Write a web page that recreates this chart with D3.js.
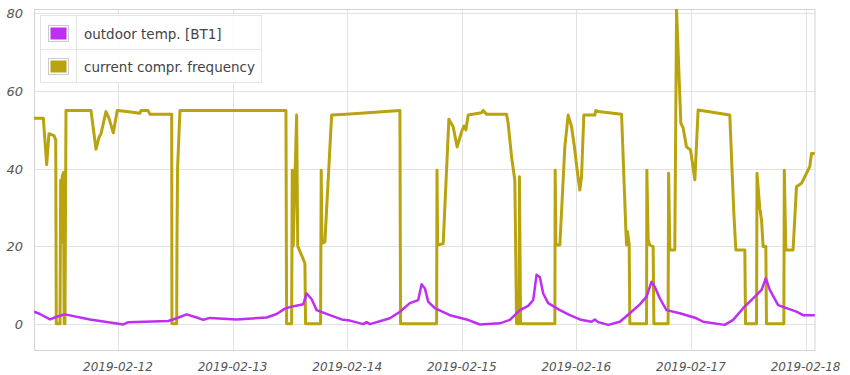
<!DOCTYPE html>
<html>
<head>
<meta charset="utf-8">
<script src="https://cdn.jsdelivr.net/npm/d3@7.9.0/dist/d3.min.js"></script>
<style>
  body { margin: 0; background: #fff; }
  svg { display: block; }
  .tick-label { font-family: 'DejaVu Sans', sans-serif; font-style: italic; fill: #555; }
  .legend-text { font-family: 'DejaVu Sans', sans-serif; font-size: 13.5px; fill: #444; }
</style>
</head>
<body>
<svg id="chart" width="850" height="375"></svg>
<script>
const seriesNames = ['outdoor temp. [BT1]', 'current compr. frequency'];
const seriesColors = ['#bf2ef2', '#b9a40f'];

const xStart = '2019-02-11 06:25';
const xEnd = '2019-02-18 02:05';
const dayTicks = ['2019-02-12', '2019-02-13', '2019-02-14', '2019-02-15', '2019-02-16', '2019-02-17', '2019-02-18'];
const yTicks = [0, 20, 40, 60, 80];

// outdoor temp
const tempData = [
  ['2019-02-11 06:25', 3.1], ['2019-02-11 07:40', 2.5], ['2019-02-11 09:46', 1.1], ['2019-02-11 11:10', 1.8],
  ['2019-02-11 12:54', 2.4], ['2019-02-11 18:08', 1.1], ['2019-02-12 01:07', -0.2], ['2019-02-12 02:10', 0.4],
  ['2019-02-12 10:32', 0.7], ['2019-02-12 12:18', 1.4], ['2019-02-12 14:23', 2.4], ['2019-02-12 16:29', 1.6],
  ['2019-02-12 17:52', 1.0], ['2019-02-12 19:16', 1.5], ['2019-02-13 00:51', 1.1], ['2019-02-13 07:08', 1.6],
  ['2019-02-13 09:14', 2.5], ['2019-02-13 10:58', 3.9], ['2019-02-13 12:22', 4.4], ['2019-02-13 14:07', 4.8],
  ['2019-02-13 14:48', 5.0], ['2019-02-13 15:31', 7.8], ['2019-02-13 16:34', 6.3], ['2019-02-13 17:36', 3.5],
  ['2019-02-13 20:23', 2.2], ['2019-02-13 22:50', 1.1], ['2019-02-14 00:35', 0.8], ['2019-02-14 03:22', -0.1],
  ['2019-02-14 04:04', 0.4], ['2019-02-14 04:46', -0.1], ['2019-02-14 08:57', 1.4], ['2019-02-14 11:03', 3.1],
  ['2019-02-14 13:08', 5.3], ['2019-02-14 14:53', 6.1], ['2019-02-14 15:35', 10.2], ['2019-02-14 16:17', 9.1],
  ['2019-02-14 16:58', 5.7], ['2019-02-14 18:22', 4.0], ['2019-02-14 21:31', 2.2], ['2019-02-15 01:01', 1.1],
  ['2019-02-15 03:48', -0.2], ['2019-02-15 07:59', 0.1], ['2019-02-15 10:05', 1.0], ['2019-02-15 12:10', 3.5],
  ['2019-02-15 13:55', 4.6], ['2019-02-15 14:58', 6.1], ['2019-02-15 15:40', 12.6], ['2019-02-15 16:22', 12.0],
  ['2019-02-15 17:03', 7.8], ['2019-02-15 18:06', 5.3], ['2019-02-15 20:33', 3.5], ['2019-02-15 22:38', 2.2],
  ['2019-02-16 00:44', 1.1], ['2019-02-16 03:11', 0.5], ['2019-02-16 03:52', 1.1], ['2019-02-16 04:34', 0.4],
  ['2019-02-16 06:40', -0.3], ['2019-02-16 09:07', 0.5], ['2019-02-16 11:12', 2.7], ['2019-02-16 13:18', 5.0],
  ['2019-02-16 14:42', 7.0], ['2019-02-16 15:44', 10.8], ['2019-02-16 16:26', 9.5], ['2019-02-16 17:29', 6.5],
  ['2019-02-16 18:53', 3.5], ['2019-02-16 21:40', 2.7], ['2019-02-17 01:10', 1.4], ['2019-02-17 02:33', 0.5],
  ['2019-02-17 07:05', -0.3], ['2019-02-17 08:50', 1.0], ['2019-02-17 10:56', 4.0], ['2019-02-17 13:23', 7.0],
  ['2019-02-17 14:47', 8.7], ['2019-02-17 15:41', 11.7], ['2019-02-17 16:31', 8.7], ['2019-02-17 18:15', 4.8],
  ['2019-02-17 20:01', 4.0], ['2019-02-17 22:06', 3.1], ['2019-02-17 23:29', 2.2], ['2019-02-18 01:56', 2.2]
];

// current compr. frequency
const compData = [
  ['2019-02-11 06:25', 53], ['2019-02-11 08:22', 53], ['2019-02-11 09:04', 41], ['2019-02-11 09:33', 49],
  ['2019-02-11 10:36', 48.5], ['2019-02-11 10:58', 47.4], ['2019-02-11 11:05', 0], ['2019-02-11 11:52', 0],
  ['2019-02-11 12:00', 37], ['2019-02-11 12:08', 21], ['2019-02-11 12:20', 38], ['2019-02-11 12:35', 39],
  ['2019-02-11 12:44', 0], ['2019-02-11 12:54', 0], ['2019-02-11 13:07', 55], ['2019-02-11 18:21', 55],
  ['2019-02-11 19:24', 45], ['2019-02-11 20:01', 48], ['2019-02-11 20:27', 49], ['2019-02-11 21:29', 54.7],
  ['2019-02-11 22:07', 53], ['2019-02-11 23:01', 49.2], ['2019-02-11 23:51', 55], ['2019-02-12 01:49', 54.7],
  ['2019-02-12 04:36', 54.3], ['2019-02-12 04:49', 55], ['2019-02-12 06:17', 55], ['2019-02-12 06:42', 54],
  ['2019-02-12 11:15', 54], ['2019-02-12 11:18', 0], ['2019-02-12 12:18', 0], ['2019-02-12 12:21', 20],
  ['2019-02-12 12:29', 40], ['2019-02-12 12:59', 55], ['2019-02-13 11:11', 55], ['2019-02-13 11:19', 0],
  ['2019-02-13 12:22', 0], ['2019-02-13 12:30', 39.6], ['2019-02-13 12:42', 20], ['2019-02-13 13:25', 53.8],
  ['2019-02-13 13:39', 20], ['2019-02-13 15:09', 15.6], ['2019-02-13 15:18', 0], ['2019-02-13 18:26', 0],
  ['2019-02-13 18:34', 39.6], ['2019-02-13 18:43', 20.7], ['2019-02-13 19:20', 21.1], ['2019-02-13 20:45', 53.8],
  ['2019-02-14 00:35', 54.1], ['2019-02-14 11:03', 55], ['2019-02-14 11:11', 0], ['2019-02-14 18:44', 0],
  ['2019-02-14 18:49', 39.6], ['2019-02-14 18:57', 20.3], ['2019-02-14 20:07', 20.7], ['2019-02-14 21:18', 52.7],
  ['2019-02-14 22:12', 50.8], ['2019-02-14 23:02', 45.6], ['2019-02-14 23:58', 49.5], ['2019-02-15 00:27', 51],
  ['2019-02-15 00:52', 50], ['2019-02-15 01:21', 53.8], ['2019-02-15 04:09', 54.4], ['2019-02-15 04:29', 55],
  ['2019-02-15 05:12', 54], ['2019-02-15 09:23', 54], ['2019-02-15 09:43', 51.7], ['2019-02-15 10:26', 43],
  ['2019-02-15 11:07', 37], ['2019-02-15 11:29', 0], ['2019-02-15 12:01', 0], ['2019-02-15 12:05', 37.9],
  ['2019-02-15 12:19', 0], ['2019-02-15 19:30', 0], ['2019-02-15 19:34', 39.6], ['2019-02-15 19:43', 20.3],
  ['2019-02-15 20:33', 20.3], ['2019-02-15 21:35', 45.6], ['2019-02-15 22:17', 53.8], ['2019-02-15 23:00', 50.8],
  ['2019-02-15 23:41', 44.8], ['2019-02-16 00:10', 39.6], ['2019-02-16 00:44', 34.5], ['2019-02-16 01:05', 37.9],
  ['2019-02-16 01:34', 53.8], ['2019-02-16 03:52', 53.8], ['2019-02-16 04:05', 55], ['2019-02-16 04:34', 54.7],
  ['2019-02-16 09:28', 54], ['2019-02-16 10:22', 24.2], ['2019-02-16 10:31', 20.3], ['2019-02-16 10:43', 23.7],
  ['2019-02-16 11:04', 20.3], ['2019-02-16 11:12', 0], ['2019-02-16 14:42', 0], ['2019-02-16 14:46', 39.6],
  ['2019-02-16 15:02', 21.6], ['2019-02-16 15:23', 20.3], ['2019-02-16 16:05', 19.9], ['2019-02-16 16:14', 0],
  ['2019-02-16 19:13', 0], ['2019-02-16 19:19', 38.8], ['2019-02-16 19:35', 19], ['2019-02-16 20:37', 19],
  ['2019-02-16 20:59', 81], ['2019-02-16 21:53', 51.7], ['2019-02-16 22:22', 50.5], ['2019-02-16 23:04', 45.6],
  ['2019-02-16 23:55', 44.8], ['2019-02-17 00:49', 37.1], ['2019-02-17 01:30', 55.1], ['2019-02-17 08:08', 53.8],
  ['2019-02-17 08:59', 28.5], ['2019-02-17 09:24', 19], ['2019-02-17 11:17', 19], ['2019-02-17 11:26', 0],
  ['2019-02-17 13:44', 0], ['2019-02-17 13:50', 38.8], ['2019-02-17 14:25', 29.8], ['2019-02-17 14:47', 26.7],
  ['2019-02-17 15:07', 19.9], ['2019-02-17 15:41', 19.9], ['2019-02-17 15:49', 0], ['2019-02-17 19:27', 0],
  ['2019-02-17 19:33', 39.6], ['2019-02-17 19:52', 19], ['2019-02-17 21:23', 19], ['2019-02-17 22:06', 35.3],
  ['2019-02-17 23:09', 36.2], ['2019-02-18 00:12', 38.8], ['2019-02-18 00:53', 40.5], ['2019-02-18 01:15', 43.9],
  ['2019-02-18 01:56', 43.9]
];

const parseTime = d3.timeParse('%Y-%m-%d %H:%M');
const parseDay = d3.timeParse('%Y-%m-%d');

const plot = { left: 34, right: 815.5, top: 9, bottom: 351 };

const x = d3.scaleTime()
  .domain([parseTime(xStart), parseTime(xEnd)])
  .range([plot.left, plot.right]);

const y = d3.scaleLinear()
  .domain([-7.04, 81.16])
  .range([plot.bottom, plot.top]);

const svg = d3.select('#chart');

svg.append('defs').append('clipPath').attr('id', 'clip')
  .append('rect')
  .attr('x', plot.left).attr('y', plot.top)
  .attr('width', plot.right - plot.left).attr('height', plot.bottom - plot.top);

// grid
const grid = svg.append('g').attr('stroke', '#e2e2e2').attr('stroke-width', 1);
dayTicks.forEach((d) => {
  const px = Math.round(x(parseDay(d))) + 0.5;
  grid.append('line').attr('x1', px).attr('x2', px).attr('y1', plot.top).attr('y2', plot.bottom);
});
yTicks.forEach((t) => {
  const py = Math.round(y(t)) + 0.5;
  grid.append('line').attr('x1', plot.left).attr('x2', plot.right).attr('y1', py).attr('y2', py);
});

svg.append('rect')
  .attr('x', plot.left + 0.5).attr('y', plot.top + 0.5)
  .attr('width', plot.right - plot.left - 1).attr('height', plot.bottom - plot.top - 1)
  .attr('fill', 'none').attr('stroke', '#d4d4d4');

// tick labels
dayTicks.forEach((d) => {
  svg.append('text')
    .attr('class', 'tick-label')
    .attr('x', x(parseDay(d)))
    .attr('y', 370.5)
    .attr('text-anchor', 'middle')
    .attr('font-size', 12)
    .text(d);
});
yTicks.forEach((t) => {
  svg.append('text')
    .attr('class', 'tick-label')
    .attr('x', 23)
    .attr('y', y(t) + 5)
    .attr('text-anchor', 'end')
    .attr('font-size', 13)
    .text(t);
});

// lines
const line = d3.line()
  .x((d) => x(parseTime(d[0])))
  .y((d) => y(d[1]));

const lines = svg.append('g').attr('clip-path', 'url(#clip)');
lines.append('path')
  .attr('d', line(compData))
  .attr('fill', 'none')
  .attr('stroke', seriesColors[1])
  .attr('stroke-width', 3)
  .attr('stroke-linejoin', 'round');
lines.append('path')
  .attr('d', line(tempData))
  .attr('fill', 'none')
  .attr('stroke', seriesColors[0])
  .attr('stroke-width', 2.5)
  .attr('stroke-linejoin', 'round');

// legend
const legend = svg.append('g');
legend.append('rect')
  .attr('x', 40.5).attr('y', 15.5).attr('width', 221).attr('height', 67)
  .attr('fill', '#fff').attr('fill-opacity', 0.85).attr('stroke', '#e4e4e4');
legend.append('line').attr('x1', 76.5).attr('x2', 76.5).attr('y1', 15.5).attr('y2', 82.5).attr('stroke', '#e4e4e4');
legend.append('line').attr('x1', 40.5).attr('x2', 261.5).attr('y1', 49.5).attr('y2', 49.5).attr('stroke', '#e4e4e4');

seriesNames.forEach((name, i) => {
  const top = 25 + i * 33;
  legend.append('rect')
    .attr('x', 48.5).attr('y', top + 0.5).attr('width', 20).attr('height', 16)
    .attr('fill', '#fff').attr('stroke', '#ccc');
  legend.append('rect')
    .attr('x', 50.5).attr('y', top + 2.5).attr('width', 16).attr('height', 12)
    .attr('fill', seriesColors[i]);
  legend.append('text')
    .attr('class', 'legend-text')
    .attr('x', 84)
    .attr('y', top + 13.5)
    .text(name);
});
</script>
</body>
</html>
